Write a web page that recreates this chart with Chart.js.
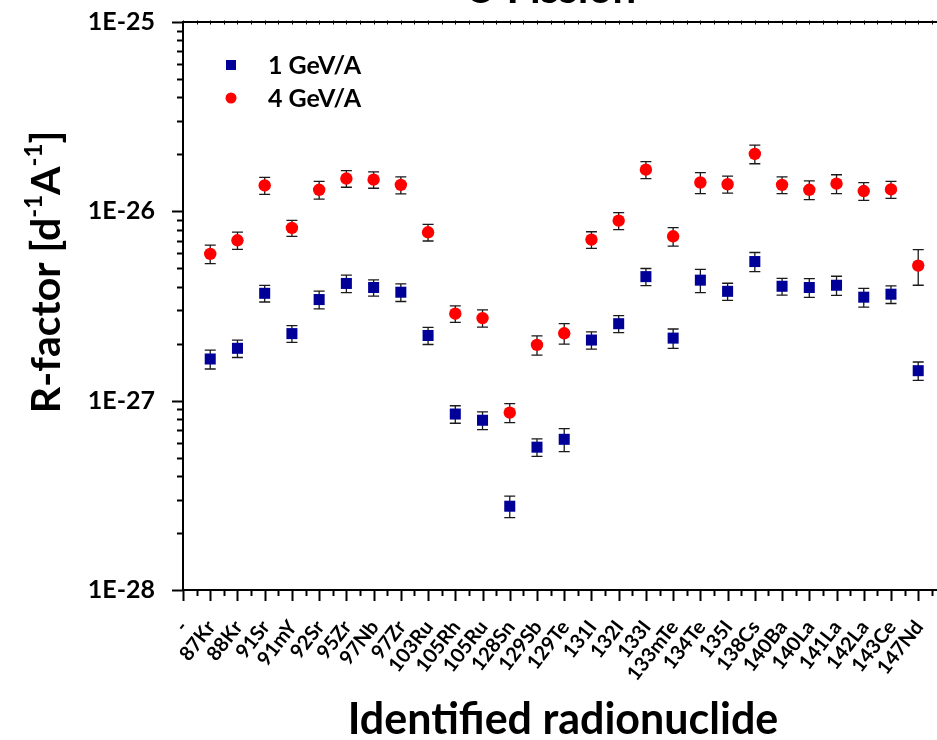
<!DOCTYPE html>
<html>
<head>
<meta charset="utf-8">
<script src="https://cdn.jsdelivr.net/npm/chart.js@4.4.1/dist/chart.umd.min.js"></script>
<style>
  html, body { margin: 0; padding: 0; background: #ffffff; }
  #wrap { width: 937px; height: 740px; position: relative; }
</style>
</head>
<body>
<div id="wrap"><canvas id="c" width="937" height="740"></canvas></div>
<script>
// Radionuclides identified in the irradiated samples
const nuclides = ['87Kr', '88Kr', '91Sr', '91mY', '92Sr', '95Zr', '97Nb', '97Zr', '103Ru',
  '105Rh', '105Ru', '128Sn', '129Sb', '129Te', '131I', '132I', '133I', '133mTe', '134Te',
  '135I', '138Cs', '140Ba', '140La', '141La', '142La', '143Ce', '147Nd'];
const tickLabels = ['-'].concat(nuclides);

// R-factor [d^-1 A^-1] and its uncertainty, 1 GeV/A
const rf1GeV = [1.66e-27, 1.89e-27, 3.69e-27, 2.26e-27, 3.42e-27, 4.16e-27, 3.96e-27, 3.74e-27, 2.21e-27,
  8.50e-28, 7.88e-28, 2.77e-28, 5.68e-28, 6.25e-28, 2.09e-27, 2.55e-27, 4.52e-27, 2.14e-27, 4.33e-27,
  3.78e-27, 5.43e-27, 4.02e-27, 3.96e-27, 4.07e-27, 3.52e-27, 3.65e-27, 1.44e-27];
const err1GeV = [0.19e-27, 0.20e-27, 0.37e-27, 0.23e-27, 0.37e-27, 0.44e-27, 0.39e-27, 0.40e-27, 0.23e-27,
  0.090e-27, 0.084e-27, 0.036e-27, 0.060e-27, 0.087e-27, 0.22e-27, 0.26e-27, 0.47e-27, 0.25e-27, 0.61e-27,
  0.39e-27, 0.63e-27, 0.41e-27, 0.45e-27, 0.47e-27, 0.40e-27, 0.39e-27, 0.16e-27];

// R-factor [d^-1 A^-1] and its uncertainty, 4 GeV/A
const rf4GeV = [5.96e-27, 7.03e-27, 1.37e-26, 8.17e-27, 1.30e-26, 1.49e-26, 1.47e-26, 1.38e-26, 7.75e-27,
  2.88e-27, 2.73e-27, 8.65e-28, 1.97e-27, 2.27e-27, 7.09e-27, 8.93e-27, 1.66e-26, 7.38e-27, 1.42e-26,
  1.39e-26, 2.01e-26, 1.38e-26, 1.30e-26, 1.40e-26, 1.28e-26, 1.305e-26, 5.17e-27];
const err4GeV = [0.67e-27, 0.74e-27, 0.14e-26, 0.79e-27, 0.14e-26, 0.15e-26, 0.146e-26, 0.142e-26, 0.78e-27,
  0.29e-27, 0.285e-27, 0.10e-27, 0.23e-27, 0.28e-27, 0.71e-27, 0.92e-27, 0.17e-26, 0.83e-27, 0.18e-26,
  0.143e-26, 0.226e-26, 0.14e-26, 0.147e-26, 0.16e-26, 0.137e-26, 0.135e-26, 1.10e-27];

const yTickValues = [1e-28, 1e-27, 1e-26, 1e-25];
const yTickLabels = ['1E-28', '1E-27', '1E-26', '1E-25'];

const FONT = 'Lato, "Open Sans", sans-serif';
const BLUE = '#000099';
const RED = '#ff0000';

const toPoints = (vals) => vals.map((v, i) => ({ x: i + 1, y: v }));

// Vertical error bars with caps, drawn beneath the markers
const errorBars = {
  id: 'errorBars',
  beforeDatasetsDraw(chart) {
    const { ctx, scales: { x, y } } = chart;
    ctx.save();
    ctx.strokeStyle = '#1a1a1a';
    ctx.lineWidth = 1.3;
    chart.data.datasets.forEach((ds) => {
      ds.data.forEach((p, i) => {
        const e = ds.errors[i];
        const px = x.getPixelForValue(p.x);
        const pTop = y.getPixelForValue(p.y + e);
        const pBot = y.getPixelForValue(p.y - e);
        const cap = 5.5;
        ctx.beginPath();
        ctx.moveTo(px, pTop); ctx.lineTo(px, pBot);
        ctx.moveTo(px - cap, pTop); ctx.lineTo(px + cap, pTop);
        ctx.moveTo(px - cap, pBot); ctx.lineTo(px + cap, pBot);
        ctx.stroke();
      });
    });
    ctx.restore();
  }
};

// Frame line on top, major/minor tick marks on both axes, titles and legend
const decorations = {
  id: 'decorations',
  afterDraw(chart) {
    const { ctx, chartArea: area, scales: { x, y } } = chart;
    ctx.save();
    ctx.strokeStyle = '#000';

    // top frame
    ctx.lineWidth = 2;
    ctx.beginPath();
    ctx.moveTo(area.left, area.top); ctx.lineTo(area.right, area.top);
    ctx.stroke();

    // x ticks (outside, bottom) and small marks on top frame
    for (let k = 0; k <= x.max; k += 0.5) {
      const px = Math.round(x.getPixelForValue(k)) + 0.5;
      const major = Number.isInteger(k);
      ctx.lineWidth = 2;
      ctx.beginPath();
      ctx.moveTo(px, area.bottom); ctx.lineTo(px, area.bottom + (major ? 11 : 6));
      ctx.stroke();
      ctx.lineWidth = 1;
      ctx.beginPath();
      ctx.moveTo(px, area.top - 1.5); ctx.lineTo(px, area.top + 2.5);
      ctx.stroke();
    }

    // y ticks (outside, left): decades and 2..9 subdivisions
    ctx.lineWidth = 2;
    for (let d = -28; d <= -25; d++) {
      for (let m = 1; m <= 9; m++) {
        if (d === -25 && m > 1) break;
        const v = m * Math.pow(10, d);
        const py = Math.round(y.getPixelForValue(v)) + 0.5;
        const major = m === 1;
        ctx.beginPath();
        ctx.moveTo(area.left, py); ctx.lineTo(area.left - (major ? 11 : 6), py);
        ctx.stroke();
      }
    }

    ctx.fillStyle = '#000';

    // chart title (sits at the very top edge)
    ctx.font = 'bold 42px ' + FONT;
    ctx.textAlign = 'left';
    ctx.textBaseline = 'alphabetic';
    ctx.fillText('U Fission', 465, 3);

    // x axis title
    ctx.font = 'bold 43px ' + FONT;
    ctx.textAlign = 'center';
    ctx.fillText('Identified radionuclide', 563, 734);

    // y axis title, rotated, with superscripts
    const big = 'bold 41px ' + FONT;
    const small = 'bold 24px ' + FONT;
    const parts = [
      { t: 'R-factor [d', f: big, dy: 0 },
      { t: '-1', f: small, dy: -18 },
      { t: 'A', f: big, dy: 0 },
      { t: '-1', f: small, dy: -18 },
      { t: ']', f: big, dy: 0 }
    ];
    let total = 0;
    parts.forEach((p) => { ctx.font = p.f; p.w = ctx.measureText(p.t).width; total += p.w; });
    ctx.save();
    ctx.translate(60, 272);
    ctx.rotate(-Math.PI / 2);
    ctx.textAlign = 'left';
    let cx = -total / 2;
    parts.forEach((p) => { ctx.font = p.f; ctx.fillText(p.t, cx, p.dy); cx += p.w; });
    ctx.restore();

    // legend
    ctx.font = 'bold 25px ' + FONT;
    ctx.textAlign = 'left';
    ctx.textBaseline = 'middle';
    ctx.fillStyle = BLUE;
    ctx.fillRect(231 - 5, 65 - 5, 10, 10);
    ctx.fillStyle = RED;
    ctx.beginPath(); ctx.arc(231, 98, 5.5, 0, Math.PI * 2); ctx.fill();
    ctx.fillStyle = '#000';
    ctx.fillText('1 GeV/A', 268, 66);
    ctx.fillText('4 GeV/A', 268, 99);

    ctx.restore();
  }
};

new Chart(document.getElementById('c'), {
  type: 'scatter',
  data: {
    datasets: [
      {
        label: '1 GeV/A',
        data: toPoints(rf1GeV),
        errors: err1GeV,
        pointStyle: 'rect',
        pointRadius: 7.8,
        pointHoverRadius: 7.8,
        backgroundColor: BLUE,
        borderColor: BLUE,
        borderWidth: 0
      },
      {
        label: '4 GeV/A',
        data: toPoints(rf4GeV),
        errors: err4GeV,
        pointStyle: 'circle',
        pointRadius: 6.2,
        pointHoverRadius: 6.2,
        backgroundColor: RED,
        borderColor: RED,
        borderWidth: 0
      }
    ]
  },
  options: {
    responsive: false,
    animation: false,
    devicePixelRatio: 1,
    layout: { autoPadding: false, padding: { top: 22, right: 0, bottom: 0, left: 0 } },
    plugins: {
      legend: { display: false },
      tooltip: { enabled: false },
      title: { display: false }
    },
    scales: {
      x: {
        type: 'linear',
        min: 0,
        max: 27.69,
        grid: { display: false },
        border: { display: true, width: 2, color: '#000' },
        ticks: {
          autoSkip: false,
          minRotation: 52,
          maxRotation: 52,
          padding: 18,
          labelOffset: 1,
          color: '#000',
          font: { family: FONT, size: 20, weight: 'bold' },
          callback: (v) => tickLabels[v]
        },
        afterBuildTicks: (scale) => { scale.ticks = tickLabels.map((_, i) => ({ value: i })); },
        afterFit: (scale) => { scale.height = 150; scale.paddingLeft = 0; scale.paddingRight = 0; }
      },
      y: {
        type: 'logarithmic',
        min: 1e-28,
        max: 1e-25,
        grid: { display: false },
        border: { display: true, width: 2, color: '#000' },
        ticks: {
          padding: 20,
          color: '#000',
          font: { family: FONT, size: 25, weight: 'bold' },
          callback: (v) => yTickLabels[yTickValues.indexOf(v)]
        },
        afterBuildTicks: (scale) => { scale.ticks = yTickValues.map((v) => ({ value: v })); },
        afterFit: (scale) => { scale.width = 183; scale.paddingTop = 0; scale.paddingBottom = 0; }
      }
    }
  },
  plugins: [errorBars, decorations]
});
</script>
</body>
</html>
